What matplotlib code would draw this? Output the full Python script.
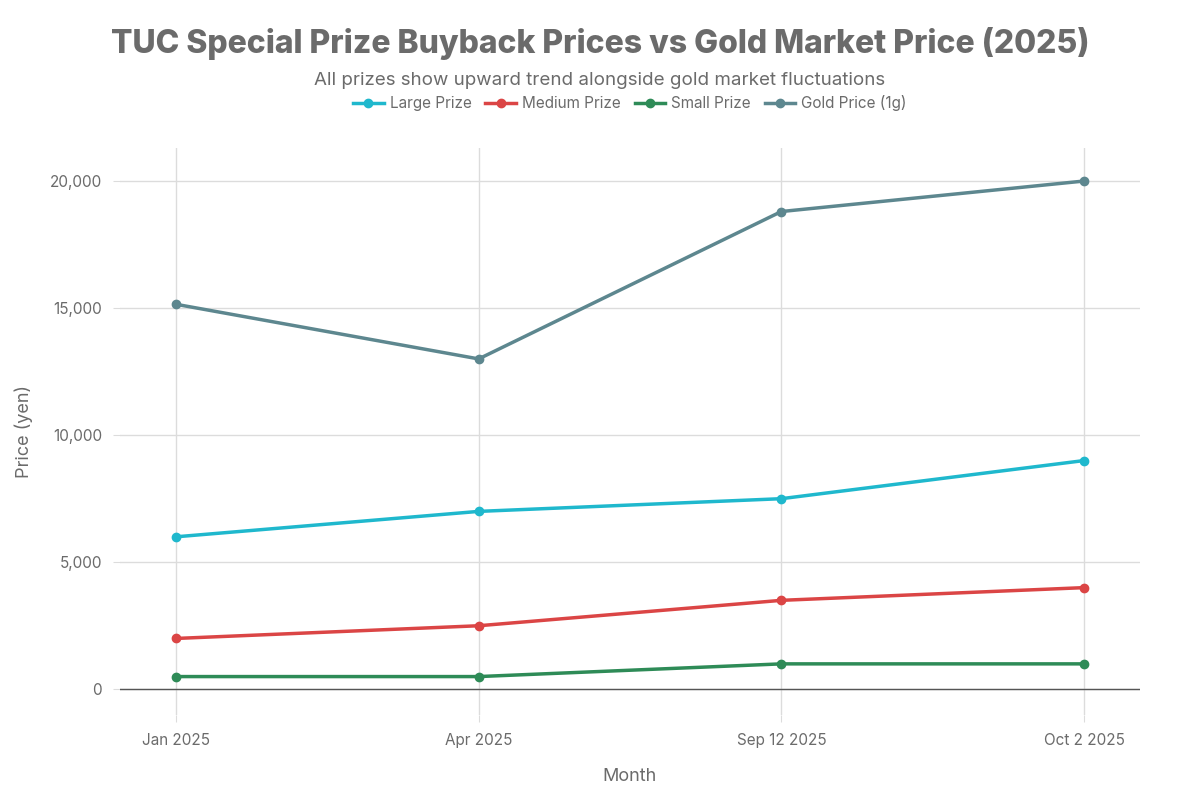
import numpy as np
import matplotlib.pyplot as plt

# data
months = ['Jan 2025', 'Apr 2025', 'Sep 12 2025', 'Oct 2 2025']
large_prize = [6000, 7000, 7500, 9000]
medium_prize = [2000, 2500, 3500, 4000]
small_prize = [500, 500, 1000, 1000]
gold_price = [15150, 13000, 18800, 20000]

series = [
    ('Large Prize', large_prize, '#1FB8CD'),
    ('Medium Prize', medium_prize, '#DB4545'),
    ('Small Prize', small_prize, '#2E8B57'),
    ('Gold Price (1g)', gold_price, '#5D878F'),
]

txt = '#6b6b6b'
plt.rcParams['font.family'] = ['Inter', 'DejaVu Sans']

fig = plt.figure(figsize=(12, 8), dpi=100)
ax = fig.add_axes([0.1, 0.106, 0.85, 0.709])

x = np.arange(len(months))
for name, vals, col in series:
    ax.plot(x, vals, color=col, lw=2.5, marker='o', ms=6, label=name, zorder=3)

ax.set_xlim(-0.185, 3.185)
ax.set_ylim(-1020, 21300)
ax.set_xticks(x)
ax.set_xticklabels(months)
ax.set_yticks([0, 5000, 10000, 15000, 20000])
ax.set_yticklabels(['0', '5,000', '10,000', '15,000', '20,000'])
ax.grid(True, color='#dcdcdc', lw=1)
ax.set_axisbelow(True)
ax.axhline(0, color='#555555', lw=1, zorder=2)
for s in ax.spines.values():
    s.set_visible(False)
ax.tick_params(colors='#dcdcdc', labelcolor=txt, labelsize=11, length=5, pad=8)

ax.set_xlabel('Month', fontsize=13, color=txt, labelpad=14)
ax.set_ylabel('Price (yen)', fontsize=13, color=txt, labelpad=12)

fig.text(0.5, 0.945, 'TUC Special Prize Buyback Prices vs Gold Market Price (2025)',
         ha='center', va='center', fontsize=23, fontweight='heavy', color=txt)
fig.text(0.5, 0.899, 'All prizes show upward trend alongside gold market fluctuations',
         ha='center', va='center', fontsize=13.5, color=txt)
fig.legend(loc='center', bbox_to_anchor=(0.525, 0.871), ncol=4, frameon=False,
           fontsize=11, labelcolor=txt, handlelength=2, handletextpad=0.4,
           columnspacing=0.9)

plt.savefig('out.png')
